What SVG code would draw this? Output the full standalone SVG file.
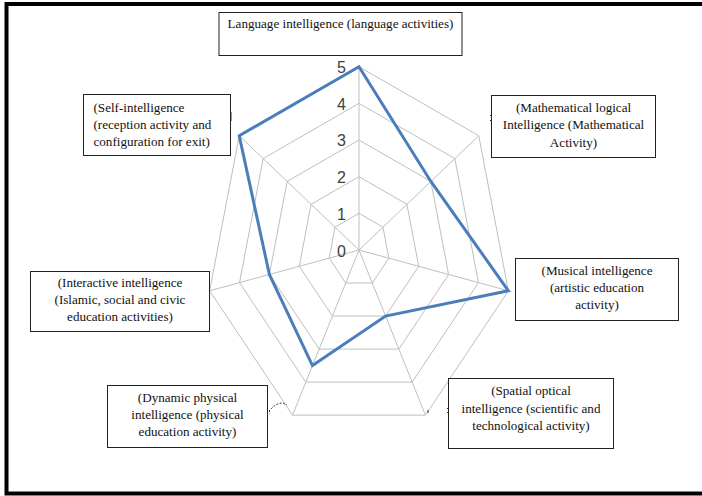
<svg xmlns="http://www.w3.org/2000/svg" width="702" height="496" viewBox="0 0 702 496">
<style>
.grid{fill:none;stroke:#BFBFBF;stroke-width:1}
.series{fill:none;stroke:#4A7EBB;stroke-width:3;stroke-linejoin:miter}
.box{fill:#FFFFFF;stroke:#222222;stroke-width:1}
.lbl{font-family:"Liberation Serif","Times New Roman",serif;font-size:13.1px;fill:#111111}
.c{text-anchor:middle}
.tick{font-family:"Liberation Sans Narrow","Liberation Sans",Arial,sans-serif;font-size:16px;fill:#404040;text-anchor:end;dominant-baseline:central}
.art{fill:none;stroke:#333;stroke-width:1}
</style>
<rect x="0" y="0" width="702" height="496" fill="#FFFFFF"/>
<rect x="6.5" y="4" width="720" height="489.5" fill="none" stroke="#000" stroke-width="4"/>
<g id="chart">
<g id="rings">
<polygon class="grid" points="359,213.34 382.96,227.14 388.87,258.16 372.29,283.03 345.71,283.03 329.13,258.16 335.05,227.14"/>
<polygon class="grid" points="359,176.68 406.91,204.29 418.74,266.31 385.59,316.06 332.41,316.06 299.26,266.31 311.09,204.29"/>
<polygon class="grid" points="359,140.02 430.87,181.43 448.62,274.47 398.88,349.09 319.12,349.09 269.38,274.47 287.14,181.43"/>
<polygon class="grid" points="359,103.36 454.82,158.57 478.49,282.63 412.18,382.12 305.82,382.12 239.51,282.63 263.18,158.57"/>
<polygon class="grid" points="359,66.7 478.78,135.72 508.36,290.79 425.47,415.15 292.53,415.15 209.64,290.79 239.23,135.72"/>
</g>
<g id="axes">
<path class="grid" d="M359,250L359,66.7M359,250L478.78,135.72M359,250L508.36,290.79M359,250L425.47,415.15M359,250L292.53,415.15M359,250L209.64,290.79M359,250L239.23,135.72"/>
</g>
<g id="ticks">
<text class="tick" x="346" y="251">0</text>
<text class="tick" x="346" y="214">1</text>
<text class="tick" x="346" y="177">2</text>
<text class="tick" x="346" y="140.5">3</text>
<text class="tick" x="346" y="104">4</text>
<text class="tick" x="346" y="67.5">5</text>
</g>
<g id="connectors">
<polygon class="series" points="359,66.7 430.87,181.43 508.36,290.79 385.59,316.06 312.47,365.61 269.38,274.47 239.23,135.72"/>
</g>
</g>
<g id="artifacts">
<path class="art" d="M231,112V121"/>
<path class="art" d="M490.5,115V116M490.5,120V121" stroke-width="1.5"/>
<path class="art" d="M269.5,410V414M271,409Q276,403 283,403L287,405" stroke-dasharray="2,1.5"/>
<path class="art" d="M428,410V413M447.5,408V409M447.5,412V413" stroke-width="1.5"/>
</g>
<g id="node-language">
<rect class="box" x="219" y="12.5" width="243" height="43"/>
<text class="lbl c" x="340.5" y="28">Language intelligence (language activities)</text>
</g>
<g id="node-math">
<rect class="box" x="491.5" y="95.5" width="164" height="62"/>
<text class="lbl c" x="573.5" y="111.5">(Mathematical logical</text>
<text class="lbl c" x="573.5" y="129">Intelligence (Mathematical</text>
<text class="lbl c" x="573.5" y="146.5">Activity)</text>
</g>
<g id="node-musical">
<rect class="box" x="515.5" y="258.5" width="163" height="62"/>
<text class="lbl c" x="597" y="275">(Musical intelligence</text>
<text class="lbl c" x="597" y="292">(artistic education</text>
<text class="lbl c" x="597" y="309">activity)</text>
</g>
<g id="node-spatial">
<rect class="box" x="448.5" y="378.5" width="165" height="70"/>
<text class="lbl c" x="531" y="395">(Spatial optical</text>
<text class="lbl c" x="531" y="412.5">intelligence (scientific and</text>
<text class="lbl c" x="531" y="429.5">technological activity)</text>
</g>
<g id="node-dynamic">
<rect class="box" x="107.5" y="385.5" width="160" height="62"/>
<text class="lbl c" x="187.5" y="401.5">(Dynamic physical</text>
<text class="lbl c" x="187.5" y="419">intelligence (physical</text>
<text class="lbl c" x="187.5" y="436">education activity)</text>
</g>
<g id="node-interactive">
<rect class="box" x="30.5" y="271.5" width="179" height="60"/>
<text class="lbl c" x="120" y="287">(Interactive intelligence</text>
<text class="lbl c" x="120" y="304">(Islamic, social and civic</text>
<text class="lbl c" x="120" y="321">education activities)</text>
</g>
<g id="node-self">
<rect class="box" x="83.5" y="94.5" width="147" height="61"/>
<text class="lbl" x="93.5" y="111.5">(Self-intelligence</text>
<text class="lbl" x="93.5" y="128.5">(reception activity and</text>
<text class="lbl" x="93.5" y="146">configuration for exit)</text>
</g>
</svg>
